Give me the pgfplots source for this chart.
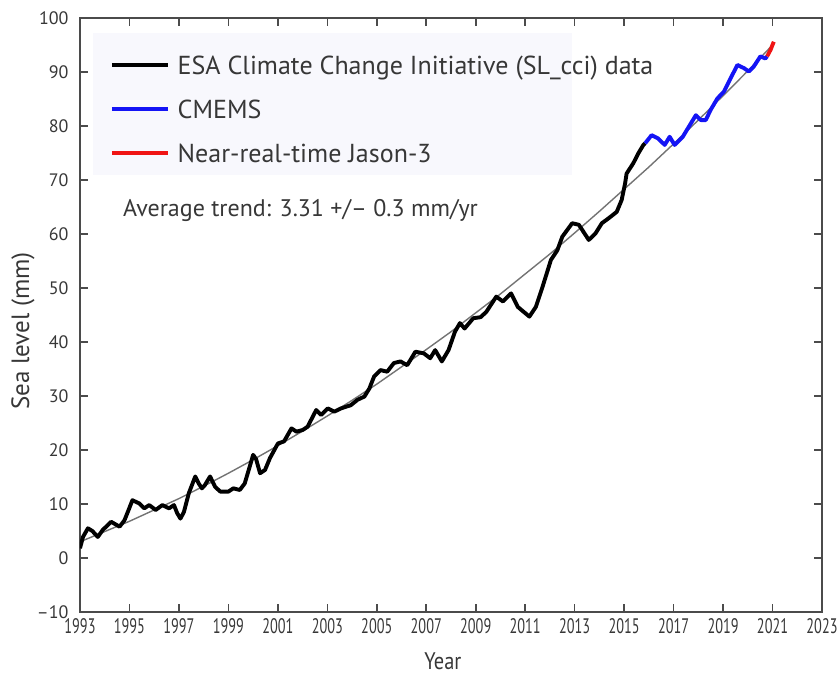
\documentclass[border=0pt]{standalone}
\usepackage{fontspec}
\setmainfont{PT Sans}
\usepackage{pgfplots}
\pgfplotsset{compat=1.18}

\definecolor{cmemsblue}{RGB}{20,20,245}
\definecolor{jasonred}{RGB}{240,20,20}
\definecolor{trendgray}{RGB}{115,115,115}
\definecolor{framegray}{RGB}{75,75,75}
\definecolor{txtgray}{RGB}{55,55,55}
\definecolor{legendbg}{RGB}{248,248,253}

% ESA SL_cci global mean sea level (mm)
\pgfplotstableread{
year val
1993.00 1.8
1993.12 3.9
1993.32 5.5
1993.50 5.0
1993.72 3.9
1993.92 5.2
1994.26 6.7
1994.45 6.2
1994.60 5.8
1994.80 7.0
1995.12 10.7
1995.40 10.1
1995.60 9.2
1995.80 9.8
1996.06 8.9
1996.33 9.8
1996.60 9.2
1996.80 9.8
1996.93 8.3
1997.06 7.3
1997.20 8.5
1997.40 12.0
1997.66 15.1
1997.80 13.8
1997.93 12.9
1998.05 13.5
1998.26 15.1
1998.46 13.2
1998.67 12.3
1999.00 12.3
1999.20 12.9
1999.46 12.6
1999.66 13.8
1999.86 16.9
2000.00 19.1
2000.12 18.3
2000.28 15.7
2000.48 16.3
2000.68 18.5
2001.00 21.2
2001.25 21.6
2001.55 24.0
2001.75 23.4
2002.00 23.7
2002.20 24.3
2002.55 27.4
2002.75 26.5
2003.02 27.7
2003.28 27.1
2003.55 27.7
2003.95 28.3
2004.22 29.3
2004.50 29.9
2004.70 31.4
2004.89 33.6
2005.15 34.8
2005.42 34.5
2005.69 36.1
2005.96 36.4
2006.23 35.7
2006.56 38.2
2006.90 37.9
2007.16 37.0
2007.36 38.5
2007.63 36.4
2007.90 38.5
2008.16 41.9
2008.36 43.5
2008.55 42.5
2008.90 44.4
2009.20 44.6
2009.43 45.6
2009.83 48.4
2010.10 47.5
2010.43 49.0
2010.70 46.5
2011.17 44.7
2011.43 46.5
2011.70 50.2
2012.04 55.2
2012.30 57.0
2012.50 59.5
2012.90 62.0
2013.17 61.7
2013.57 58.9
2013.84 60.1
2014.10 62.0
2014.37 62.9
2014.70 64.1
2014.90 66.3
2015.04 69.4
2015.10 71.2
2015.37 73.1
2015.57 74.9
2015.78 76.5
2015.85 76.8
}\esadata

% CMEMS continuation
\pgfplotstableread{
year val
2015.85 76.8
2016.11 78.3
2016.37 77.7
2016.64 76.5
2016.84 78.0
2017.04 76.5
2017.37 78.0
2017.70 80.5
2017.90 82.0
2018.10 81.1
2018.30 81.1
2018.50 83.0
2018.77 85.1
2019.04 86.4
2019.30 88.8
2019.58 91.3
2019.85 90.7
2020.04 90.1
2020.24 91.0
2020.51 92.9
2020.71 92.5
2020.78 92.9
}\cmemsdata

% Near-real-time Jason-3
\pgfplotstableread{
year val
2020.78 92.9
2020.92 94.1
2021.05 95.6
}\jasondata

% Fitted trend curve
\pgfplotstableread{
year val
1993 3.0
1994 4.9
1995 6.8
1996 8.9
1997 11.0
1998 13.3
1999 15.7
2000 18.2
2001 20.8
2002 23.5
2003 26.3
2004 29.2
2005 32.2
2006 35.4
2007 38.6
2008 41.9
2009 45.4
2010 48.9
2011 52.6
2012 56.3
2013 60.2
2014 64.2
2015 68.3
2016 72.4
2017 76.7
2018 81.1
2019 85.6
2020 90.2
2021 95.0
}\trenddata

\begin{document}
\begin{tikzpicture}
\useasboundingbox (-80pt,-63pt) rectangle (760pt,612pt);
\begin{axis}[
  at={(0pt,0pt)}, anchor=south west,
  scale only axis, width=742pt, height=594pt,
  xmin=1993, xmax=2023, ymin=-10, ymax=100,
  xtick={1993,1995,...,2023},
  ytick={-10,0,...,100},
  yticklabels={–10,0,10,20,30,40,50,60,70,80,90,100},
  /pgf/number format/1000 sep={},
  /pgf/number format/assume math mode=true,
  tick align=inside,
  major tick length=8pt,
  tick style={framegray, line width=1.6pt},
  axis line style={framegray, line width=2.8pt},
  xticklabel style={font=\fontsize{21}{24}\selectfont, xscale=0.68, text=txtgray, yshift=-3pt},
  yticklabel style={font=\fontsize{18}{21}\selectfont, text=txtgray, xshift=-8pt},
  xlabel={Year},
  ylabel={Sea level (mm)},
  xlabel style={font=\fontsize{24}{28}\selectfont, xscale=0.85, text=txtgray,
    at={(axis description cs:0.489,-0.0825)}, anchor=center},
  ylabel style={font=\fontsize{25}{29}\selectfont, text=txtgray,
    at={(axis description cs:-0.0768,0.473)}, anchor=center},
  legend cell align=left,
  legend style={
    at={(axis description cs:0.0395,0.9461)}, anchor=north west,
    draw=none, fill=none, inner xsep=0pt, inner ysep=0pt,
    font=\fontsize{26}{30}\selectfont, text=txtgray,
    row sep=14pt,
    nodes={inner sep=0pt, text height=24pt, text depth=6pt},
  },
  legend image code/.code={\draw[#1, line width=4.5pt] (0pt,0pt) -- (56pt,0pt); \path (64pt,0pt);},
]
% light panel behind the legend
\fill[legendbg] (axis description cs:0.0171,0.974) rectangle (axis description cs:0.6627,0.7357);

\addplot[trendgray, line width=1.4pt, forget plot] table[x=year, y=val] {\trenddata};

\addplot[black, line width=3.9pt, line join=round] table[x=year, y=val] {\esadata};
\addlegendentry{ESA Climate Change Initiative (SL\_cci) data}
\addplot[cmemsblue, line width=3.9pt, line join=round] table[x=year, y=val] {\cmemsdata};
\addlegendentry{CMEMS}
\addplot[jasonred, line width=3.9pt, line join=round] table[x=year, y=val] {\jasondata};
\addlegendentry{Near-real-time Jason-3}

\node[anchor=west, font=\fontsize{24}{28}\selectfont, text=txtgray]
  at (axis cs:1994.6,64.3) {Average trend: 3.31 +/– 0.3 mm/yr};
\end{axis}
\end{tikzpicture}
\end{document}
